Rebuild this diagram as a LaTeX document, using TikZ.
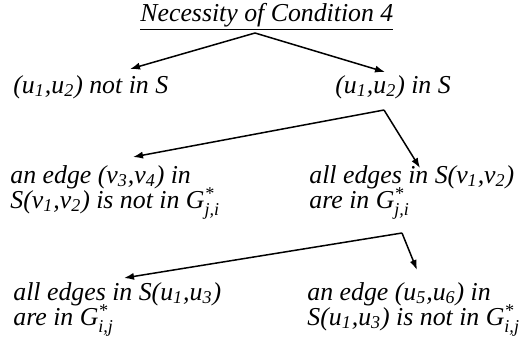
\documentclass[tikz,border=0pt]{standalone}
\usepackage{fontspec}
\usepackage{amsmath}
\setmainfont{Liberation Serif}
\usetikzlibrary{arrows.meta}
\newcommand{\ix}[1]{$_{\text{#1}}$}
\newcommand{\Gs}[1]{G$^{\text{*}}_{\text{#1}}$}
\newcommand{\lblfont}{\fontsize{12.9}{12.5}\selectfont\itshape\lineskiplimit=-20pt\relax}
\tikzset{
  lbl/.style={anchor=base west, inner sep=0pt, align=left, font=\lblfont},
  arr/.style={-{Latex[length=5pt,width=3.6pt]}, line width=0.75pt},
}
\begin{document}
\begin{tikzpicture}[x=0.5pt,y=-0.5pt]
  \useasboundingbox (0,0) rectangle (519,349);
  % 标题
  \node[lbl] (title) at (140,21) {\underline{Necessity of Condition 4}};
  % 第一层
  \node[lbl] (notin) at (13,93) {(u\ix{1},u\ix{2}) not in S};
  \node[lbl] (in) at (335,93) {(u\ix{1},u\ix{2}) in S};
  % 第二层（基线取最后一行）
  \node[lbl] (vedge) at (10,208) {an edge (v\ix{3},v\ix{4}) in\\S(v\ix{1},v\ix{2}) is not in \Gs{j,i}};
  \node[lbl] (vall) at (309,208) {all edges in S(v\ix{1},v\ix{2})\\are in \Gs{j,i}};
  % 第三层
  \node[lbl] (uall) at (13,325) {all edges in S(u\ix{1},u\ix{3})\\are in \Gs{i,j}};
  \node[lbl] (uedge) at (307,325) {an edge (u\ix{5},u\ix{6}) in\\S(u\ix{1},u\ix{3}) is not in \Gs{i,j}};
  % 分叉点
  \coordinate (s0) at (255,33);
  \coordinate (s1) at (384,110);
  \coordinate (s2) at (402,233);
  % 箭头终点
  \coordinate (e1) at (130,69);
  \coordinate (e2) at (385,72);
  \coordinate (e3) at (133,157);
  \coordinate (e4) at (420,168);
  \coordinate (e5) at (124,278);
  \coordinate (e6) at (417,270);
  % 箭头
  \draw[arr] (s0) -- (e1);
  \draw[arr] (s0) -- (e2);
  \draw[arr] (s1) -- (e3);
  \draw[arr] (s1) -- (e4);
  \draw[arr] (s2) -- (e5);
  \draw[arr] (s2) -- (e6);
\end{tikzpicture}
\end{document}
